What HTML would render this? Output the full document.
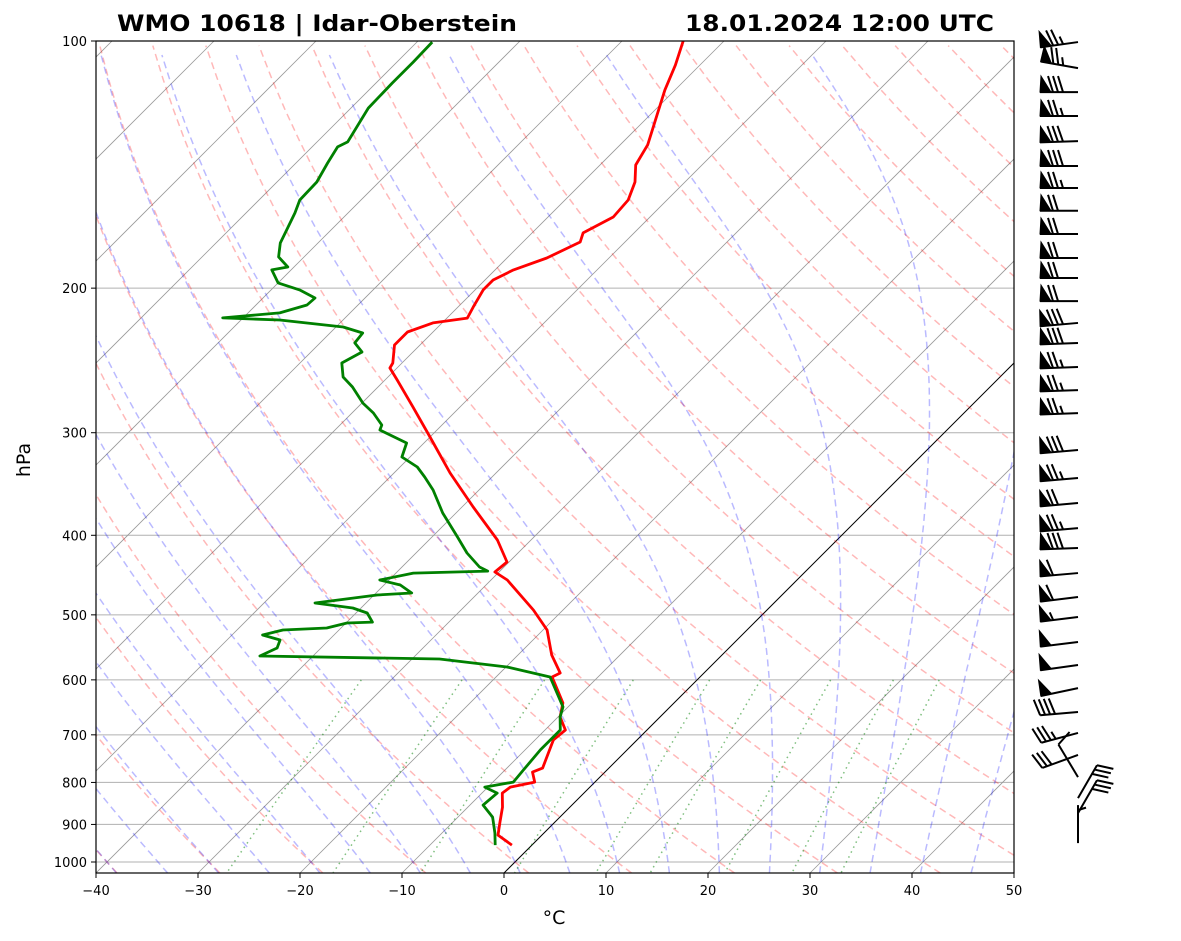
<!DOCTYPE html>
<html><head><meta charset="utf-8"><style>
html,body{margin:0;padding:0;background:#fff;}
svg{display:block;font-family:"DejaVu Sans","Liberation Sans",sans-serif;}
</style></head><body>
<svg id="chart" width="1181" height="941" viewBox="0 0 1181 941" xmlns="http://www.w3.org/2000/svg">
<defs><clipPath id="plotclip"><rect x="96" y="41" width="918" height="832"/></clipPath></defs>
<rect x="0" y="0" width="1181" height="941" fill="#fff"/>
<g id="bg" clip-path="url(#plotclip)"></g>
<g id="profiles" clip-path="url(#plotclip)"></g>
<rect x="96" y="41" width="918" height="832" fill="none" stroke="#000" stroke-width="1.2"/>
<g id="axes"></g>
<g id="barbs"></g>
<text x="117" y="31" font-size="22" font-weight="bold" textLength="400" lengthAdjust="spacingAndGlyphs">WMO 10618 | Idar-Oberstein</text>
<text x="685" y="31" font-size="22" font-weight="bold" textLength="309" lengthAdjust="spacingAndGlyphs">18.01.2024 12:00 UTC</text>
<text x="554" y="924" font-size="19" text-anchor="middle">°C</text>
<text transform="translate(30,460) rotate(-90)" font-size="19" text-anchor="middle">hPa</text>
</svg>
<script>
const tempP=[100,107,114.7,123.1,133.8,141.6,148.5,156.2,163.8,171.3,175.7,183.8,190,195.5,201,210.9,217.5,220.5,226.2,234.6,246.7,250.2,258.8,279.2,303.6,335.9,369.5,405.3,431.1,443.4,453.5,493.3,521.7,559.6,588.6,595.2,640.1,665.8,690.5,710.1,768.5,777.1,799.3,810.6,824.3,857.4,896.7,927.4,953.7];
const tempT=[-64,-62.4,-61,-59.3,-57.3,-56.5,-54.9,-53.8,-53.6,-55,-54.4,-56.1,-58.2,-59.2,-59.2,-58.5,-58,-60.9,-62.5,-62.5,-60.9,-60.7,-58.8,-54.6,-50,-44.5,-38.9,-33.3,-30.2,-30.4,-28.4,-22.9,-19.6,-16.7,-14.1,-14.5,-10.9,-9.8,-8,-8.2,-6.5,-7.1,-5.9,-7.8,-8,-6.6,-5.3,-4.3,-1.96];
const dewP=[100.3,106.1,112.5,120.7,132.7,134.6,140.8,148.5,156.2,162,168.5,176.2,183.2,188.5,190,197.1,201,205.6,209.7,214.4,217.4,218.7,223,226.8,233.2,239.2,246.7,256.6,263.9,276.1,283.9,293.6,297.7,308.8,321.1,330.3,339.7,352.3,375.8,401.9,420.4,437.2,442.2,444.7,453.5,459.9,470.3,472.9,483.7,490.5,497.4,510.2,511.6,518.8,521.7,529.1,536.5,548.7,561.2,565.9,578.8,595.2,647.3,665.8,690.5,730.3,772.8,799.3,810.6,824.3,852.6,881.7,922.2,953.7];
const dewT=[-88.5,-88.4,-88.4,-88.3,-87,-87.5,-86.9,-86.1,-86,-85.2,-84.5,-83.7,-82.5,-80.6,-81.9,-80,-77.2,-74.9,-75,-76.9,-82,-76.2,-69.3,-66.8,-66.6,-65,-65.9,-64.4,-62.5,-59.9,-57.9,-55.9,-55.6,-51.7,-50.8,-48.3,-46.6,-44.5,-41.3,-37.5,-35,-32.4,-31.2,-38.3,-40.9,-38.4,-36.5,-39.7,-45,-40.8,-38.9,-37.5,-39.9,-41.4,-45.5,-47,-44.8,-44.3,-45.2,-27.3,-19.9,-14.7,-10.5,-9.8,-8.5,-8.5,-8.2,-8,-10.3,-8.5,-8.7,-6.6,-4.8,-3.6];
const windP=[100.3,107.9,115.4,123.4,132.4,142,151,161,171.8,183.8,194.4,207.4,220.5,233.3,249.5,266.2,284,314.9,340.6,365.4,392,414.5,444.7,475.6,503,539.5,575.5,614,656.5,696.3,740.6,788.1,836,871.9,948.4];
const windSpd=[75,75,80,75,80,80,75,70,70,70,70,70,80,80,75,75,75,80,75,70,75,80,60,60,55,50,50,50,40,35,30,10,30,30,5];
const windDir=[262,280,270,270,268,270,270,270,270,270,270,270,265,268,268,268,268,265,265,265,265,268,265,263,263,263,262,258,265,255,250,329,30,30,360];
const xTicks=[-40,-30,-20,-10,0,10,20,30,40,50];
const yTicks=[100,200,300,400,500,600,700,800,900,1000];

const NS='http://www.w3.org/2000/svg';
const PB=1031.3, PT=100;
function Y(p){return 41+821*Math.log10(p/100);}
function X(T,p){return 96+(T+40)*10.2+(873-Y(p));}
function mk(tag,attrs,parent){const e=document.createElementNS(NS,tag);for(const k in attrs)e.setAttribute(k,attrs[k]);parent.appendChild(e);return e;}
const bg=document.getElementById('bg'),prof=document.getElementById('profiles'),axes=document.getElementById('axes'),barbs=document.getElementById('barbs');
function poly(pts){return pts.map(q=>q[0].toFixed(1)+','+q[1].toFixed(1)).join(' ');}

yTicks.forEach(p=>{
  const l=mk('line',{x1:96,x2:1014,y1:Y(p),y2:Y(p),stroke:'#b0b0b0','stroke-width':1},bg);
  
  
});
for(let T=-130;T<=50;T+=10){
  const l=mk('line',{x1:X(T,PB),y1:Y(PB),x2:X(T,PT),y2:Y(PT),stroke:T===0?'#000':'#999','stroke-width':T===0?1:0.8},bg);
  
  
}
for(let th=-50;th<=220;th+=10){
  const pts=[];for(let p=PB;p>=PT-1;p-=10){const pp=Math.max(p,PT);pts.push([X((th+273.15)*Math.pow(pp/1000,0.2857)-273.15,pp),Y(pp)]);}
  const l=mk('polyline',{points:poly(pts),fill:'none',stroke:'rgba(255,0,0,0.28)','stroke-width':1.5,'stroke-dasharray':'7,4.5'},bg);
  
  
}
function es(T){return 6.112*Math.exp(17.67*T/(T+243.5));}
function dTdp(Tk,p){const Rd=287.04,Cp=1005.7,Lv=2.501e6,eps=0.622;const e=es(Tk-273.15);const rs=eps*e/(p-e);
  return (1/p)*(Rd*Tk+Lv*rs)/(Cp+(Lv*Lv*rs*eps)/(Rd*Tk*Tk));}
function moist(T0){
  const up=[],dn=[];let Tk=T0+273.15,p=1000;
  up.push([p,Tk]);
  while(p>PT){const dp=-2;const k1=dTdp(Tk,p),k2=dTdp(Tk+k1*dp/2,p+dp/2);Tk+=k2*dp;p+=dp;up.push([p,Tk]);}
  Tk=T0+273.15;p=1000;
  while(p<PB){const dp=2;const k1=dTdp(Tk,p),k2=dTdp(Tk+k1*dp/2,p+dp/2);Tk+=k2*dp;p+=dp;dn.push([p,Tk]);}
  return dn.reverse().concat(up);
}
for(let T0=-45;T0<=50;T0+=5){
  const pts=moist(T0).filter((q,i)=>i%4===0).map(q=>[X(q[1]-273.15,q[0]),Y(q[0])]);
  const l=mk('polyline',{points:poly(pts),fill:'none',stroke:'rgba(0,0,255,0.27)','stroke-width':1.5,'stroke-dasharray':'7,4.5'},bg);
  
  
}
[0.0004,0.001,0.002,0.004,0.007,0.01,0.016,0.024,0.032].forEach(w=>{
  const pts=[];for(let p=600;p<=PB+10;p+=10){const pp=Math.min(p,PB);const e=w*pp/(0.622+w);const L=Math.log(e/6.112);const Td=243.5*L/(17.67-L);pts.push([X(Td,pp),Y(pp)]);}
  const l=mk('polyline',{points:poly(pts),fill:'none',stroke:'rgba(0,128,0,0.5)','stroke-width':1.5,'stroke-dasharray':'1.5,4'},bg);
  
  
});
const tl=mk('polyline',{points:poly(tempP.map((p,i)=>[X(tempT[i],p),Y(p)])),fill:'none',stroke:'#ff0000','stroke-width':2.8,'stroke-linejoin':'round'},prof);


const dl=mk('polyline',{points:poly(dewP.map((p,i)=>[X(dewT[i],p),Y(p)])),fill:'none',stroke:'#008000','stroke-width':2.8,'stroke-linejoin':'round'},prof);


xTicks.forEach(T=>{
  const x=96+(T+40)*10.2;
  mk('line',{x1:x,x2:x,y1:873,y2:878,stroke:'#000','stroke-width':1},axes);
  const t=mk('text',{x:x,y:895,'font-size':13,'text-anchor':'middle'},axes);
  t.textContent=(T<0?'\u2212'+(-T):String(T));
  
  
});
yTicks.forEach(p=>{
  const y=Y(p);
  mk('line',{x1:91,x2:96,y1:y,y2:y,stroke:'#000','stroke-width':1},axes);
  const t=mk('text',{x:87,y:y+5,'font-size':13,'text-anchor':'end'},axes);
  t.textContent=String(p);
  
  
});
const BX=1078,L=38,H=16;
windP.forEach((p,i)=>{
  const y0=Y(p);const d=windDir[i]*Math.PI/180;
  const u=[Math.sin(d),-Math.cos(d)];const pr=[-u[1],u[0]];
  const g=mk('g',{},barbs);
  
  
  const tip=[BX+u[0]*L,y0+u[1]*L];
  mk('line',{x1:BX,y1:y0,x2:tip[0],y2:tip[1],stroke:'#000','stroke-width':2},g);
  let s=windSpd[i];let pos=0;
  const at=q=>[tip[0]-u[0]*q,tip[1]-u[1]*q];
  while(s>=48){const a=at(pos),b=at(pos+11);const c=[a[0]+pr[0]*H+(-u[0])*1,a[1]+pr[1]*H+(-u[1])*1];
    mk('polygon',{points:poly([a,c,b]),fill:'#000',stroke:'#000','stroke-width':1},g);pos+=12;s-=50;}
  if(pos>0)pos+=1;
  while(s>=8){const a=at(pos);mk('line',{x1:a[0],y1:a[1],x2:a[0]+pr[0]*H+u[0]*5,y2:a[1]+pr[1]*H+u[1]*5,stroke:'#000','stroke-width':2},g);pos+=5;s-=10;}
  if(s>=3){if(pos===0)pos=5;const a=at(pos);mk('line',{x1:a[0],y1:a[1],x2:a[0]+pr[0]*H*0.5+u[0]*2.5,y2:a[1]+pr[1]*H*0.5+u[1]*2.5,stroke:'#000','stroke-width':2},g);}
});
</script>
</body></html>
